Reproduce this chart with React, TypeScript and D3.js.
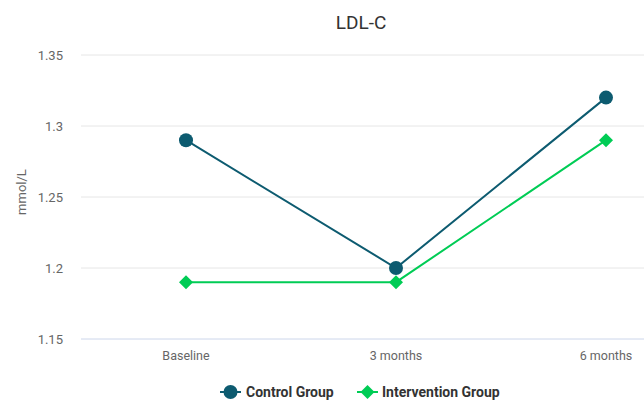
import React from "react";
import * as d3 from "d3";

const categories = ["Baseline", "3 months", "6 months"];
const controlValues = [1.29, 1.2, 1.32];
const interventionValues = [1.19, 1.19, 1.29];
const yTicks = [1.15, 1.2, 1.25, 1.3, 1.35];

const W = 644;
const H = 403;
const CONTROL = "#0d5b70";
const INTERVENTION = "#00cc55";
const FONT = "Roboto, 'Noto Sans', sans-serif";

export default function App() {
  const x = d3.scalePoint<string>().domain(categories).range([186, 606]);
  const y = d3.scaleLinear().domain([1.15, 1.35]).range([339, 55]);
  const line = d3
    .line<number>()
    .x((_, i) => x(categories[i]) as number)
    .y((d) => y(d));
  const diamond = (cx: number, cy: number, r: number) =>
    `M${cx},${cy - r}L${cx + r},${cy}L${cx},${cy + r}L${cx - r},${cy}Z`;

  return (
    <svg
      width={W}
      height={H}
      style={{ position: "absolute", left: 0, top: 0, fontFamily: FONT }}
    >
      <rect width={W} height={H} fill="#fff" />
      <text x={361} y={29} textAnchor="middle" fontSize={19} fill="#333">
        LDL-C
      </text>
      {yTicks.map((t) => (
        <g key={t}>
          <line
            x1={81}
            x2={W}
            y1={y(t)}
            y2={y(t)}
            stroke={t === 1.15 ? "#ccd6eb" : "#e6e6e6"}
            strokeWidth={1}
          />
          <text
            x={63}
            y={y(t) + 4.5}
            textAnchor="end"
            fontSize={13}
            fill="#666"
          >
            {t}
          </text>
        </g>
      ))}
      <text
        transform={`translate(26,${192}) rotate(-90)`}
        textAnchor="middle"
        fontSize={13}
        fill="#666"
      >
        mmol/L
      </text>
      {categories.map((c) => (
        <text
          key={c}
          x={x(c)}
          y={359.5}
          textAnchor="middle"
          fontSize={12.5}
          fill="#666"
        >
          {c}
        </text>
      ))}
      <path d={line(controlValues) || ""} fill="none" stroke={CONTROL} strokeWidth={2} />
      <path
        d={line(interventionValues) || ""}
        fill="none"
        stroke={INTERVENTION}
        strokeWidth={2}
      />
      {controlValues.map((v, i) => (
        <circle key={i} cx={x(categories[i])} cy={y(v)} r={7} fill={CONTROL} />
      ))}
      {interventionValues.map((v, i) => (
        <path key={i} d={diamond(x(categories[i]) as number, y(v), 7)} fill={INTERVENTION} />
      ))}
      <g>
        <line x1={220} x2={241} y1={392} y2={392} stroke={CONTROL} strokeWidth={2} />
        <circle cx={230.5} cy={392} r={7} fill={CONTROL} />
        <text x={246} y={397} fontSize={14} fontWeight="bold" fill="#333">
          Control Group
        </text>
        <line x1={357} x2={378} y1={392} y2={392} stroke={INTERVENTION} strokeWidth={2} />
        <path d={diamond(367.5, 392, 7)} fill={INTERVENTION} />
        <text x={382} y={397} fontSize={14} fontWeight="bold" fill="#333">
          Intervention Group
        </text>
      </g>
    </svg>
  );
}
